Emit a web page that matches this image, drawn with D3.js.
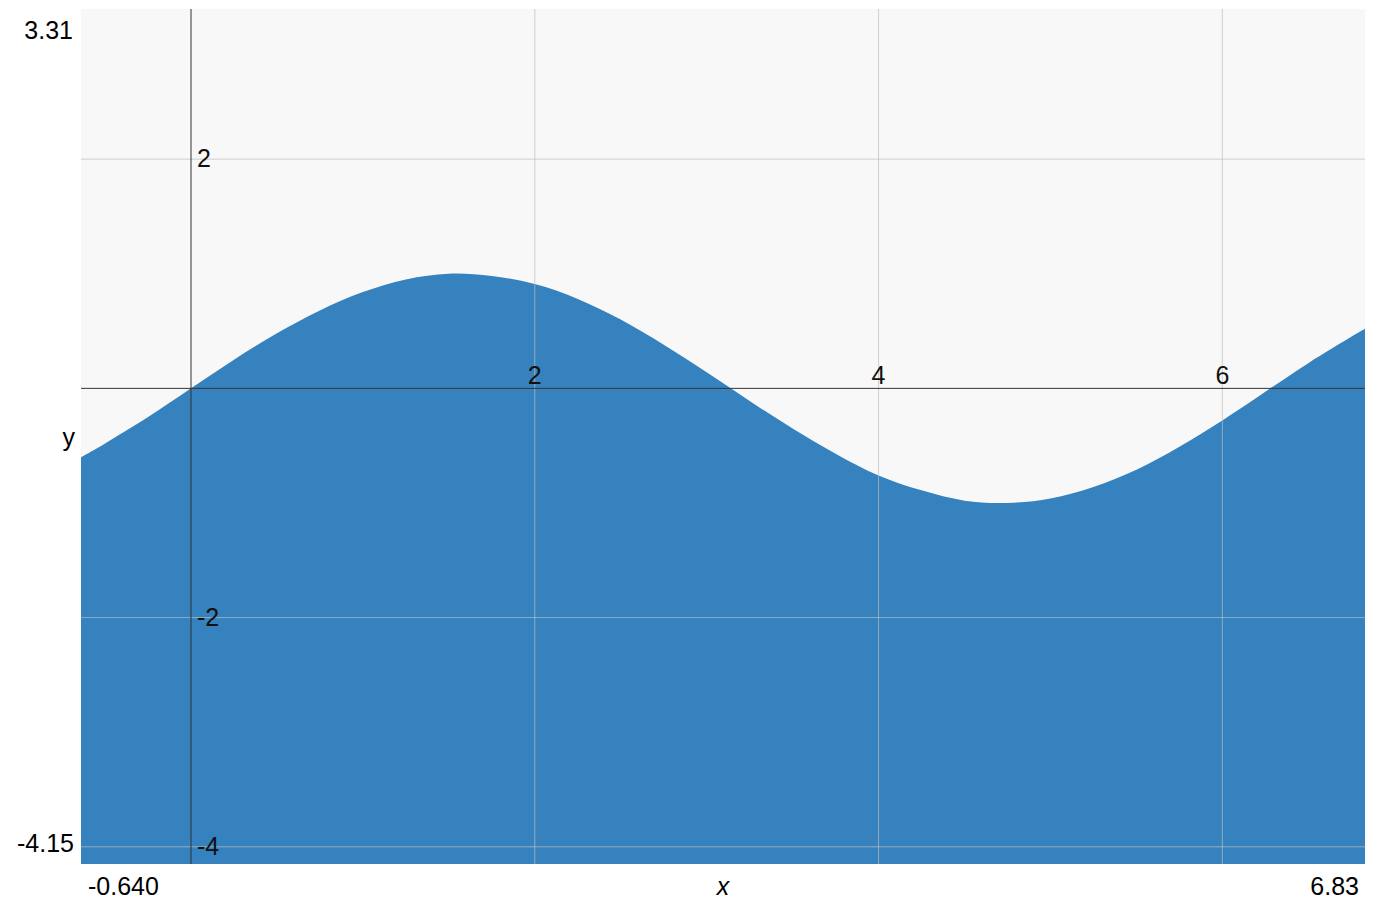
<!DOCTYPE html>
<html>
<head>
<meta charset="utf-8">
<script src="https://cdn.jsdelivr.net/npm/d3@7"></script>
<style>
    body { margin: 0; background: #fff; }
    svg { font-family: "Liberation Sans", Arial, sans-serif; }
</style>
</head>
<body>
<svg id="chart" width="1400" height="918"></svg>
<script>
// values
var xValues = [-0.64, -0.5, -0.25, 0, 0.25, 0.5, 0.75, 1.0, 1.25, 1.5, 1.75, 2.0, 2.25, 2.5, 2.75, 3.0, 3.25, 3.5,
    3.75, 4.0, 4.25, 4.5, 4.75, 5.0, 5.25, 5.5, 5.75, 6.0, 6.25, 6.5, 6.75, 6.83];
var yValues = [-0.60, -0.48, -0.25, 0, 0.25, 0.48, 0.68, 0.84, 0.95, 1.00, 0.98, 0.91, 0.78, 0.60, 0.38, 0.14, -0.11, -0.35,
    -0.57, -0.76, -0.89, -0.98, -1.00, -0.96, -0.86, -0.71, -0.51, -0.28, -0.03, 0.22, 0.45, 0.52];
var xDomain = [-0.64, 6.83];
var yDomain = [-4.15, 3.31];
var xTicks = [2, 4, 6];
var yTicks = [2, -2, -4];
var xEndLabels = ["-0.640", "6.83"];
var yEndLabels = ["3.31", "-4.15"];

var plotLeft = 81, plotRight = 1365, plotTop = 9, plotBottom = 864;
var fontSize = 25;

var svg = d3.select("#chart");
var x = d3.scaleLinear().domain(xDomain).range([plotLeft, plotRight]);
var y = d3.scaleLinear().domain(yDomain).range([plotBottom, plotTop]);

svg.append("rect")
    .attr("x", plotLeft).attr("y", plotTop)
    .attr("width", plotRight - plotLeft).attr("height", plotBottom - plotTop)
    .attr("fill", "#f8f8f8");

var points = xValues.map(function (d, i) { return {x: d, y: yValues[i]}; });

var area = d3.area()
    .curve(d3.curveNatural)
    .x(function (d) { return x(d.x); })
    .y0(plotBottom)
    .y1(function (d) { return y(d.y); });

svg.append("path")
    .datum(points)
    .attr("d", area)
    .attr("fill", "#3582be");

// grid
svg.selectAll(".vgrid")
    .data(xTicks)
    .enter().append("line")
    .attr("class", "vgrid")
    .attr("x1", function (d) { return x(d); })
    .attr("x2", function (d) { return x(d); })
    .attr("y1", plotTop).attr("y2", plotBottom)
    .style("stroke", "rgba(190,190,190,0.7)")
    .style("stroke-width", 1);

svg.selectAll(".hgrid")
    .data(yTicks)
    .enter().append("line")
    .attr("class", "hgrid")
    .attr("y1", function (d) { return y(d); })
    .attr("y2", function (d) { return y(d); })
    .attr("x1", plotLeft).attr("x2", plotRight)
    .style("stroke", "rgba(190,190,190,0.7)")
    .style("stroke-width", 1);

// axes through zero
svg.append("line")
    .attr("x1", x(0)).attr("x2", x(0))
    .attr("y1", plotTop).attr("y2", plotBottom)
    .style("stroke", "#333").style("stroke-width", 1);
svg.append("line")
    .attr("x1", plotLeft).attr("x2", plotRight)
    .attr("y1", y(0)).attr("y2", y(0))
    .style("stroke", "#333").style("stroke-width", 1);

// tick labels inside the plot
svg.selectAll(".xlabel")
    .data(xTicks)
    .enter().append("text")
    .attr("class", "xlabel")
    .attr("x", function (d) { return x(d); })
    .attr("y", y(0) - 4)
    .attr("text-anchor", "middle")
    .attr("font-size", fontSize)
    .attr("fill", "#111")
    .text(function (d) { return d; });

svg.selectAll(".ylabel")
    .data(yTicks)
    .enter().append("text")
    .attr("class", "ylabel")
    .attr("x", x(0) + 6)
    .attr("y", function (d) { return y(d) + 8; })
    .attr("font-size", fontSize)
    .attr("fill", "#111")
    .text(function (d) { return d; });

// domain end labels
svg.append("text").attr("x", 73).attr("y", 39).attr("text-anchor", "end")
    .attr("font-size", fontSize).text(yEndLabels[0]);
svg.append("text").attr("x", 74).attr("y", 852).attr("text-anchor", "end")
    .attr("font-size", fontSize).text(yEndLabels[1]);
svg.append("text").attr("x", 88).attr("y", 895)
    .attr("font-size", fontSize).text(xEndLabels[0]);
svg.append("text").attr("x", 1359).attr("y", 895).attr("text-anchor", "end")
    .attr("font-size", fontSize).text(xEndLabels[1]);
svg.append("text").attr("x", (plotLeft + plotRight) / 2).attr("y", 895).attr("text-anchor", "middle")
    .attr("font-size", fontSize).attr("font-style", "italic").text("x");
svg.append("text").attr("x", 75).attr("y", 446).attr("text-anchor", "end")
    .attr("font-size", fontSize).text("y");
</script>
</body>
</html>
